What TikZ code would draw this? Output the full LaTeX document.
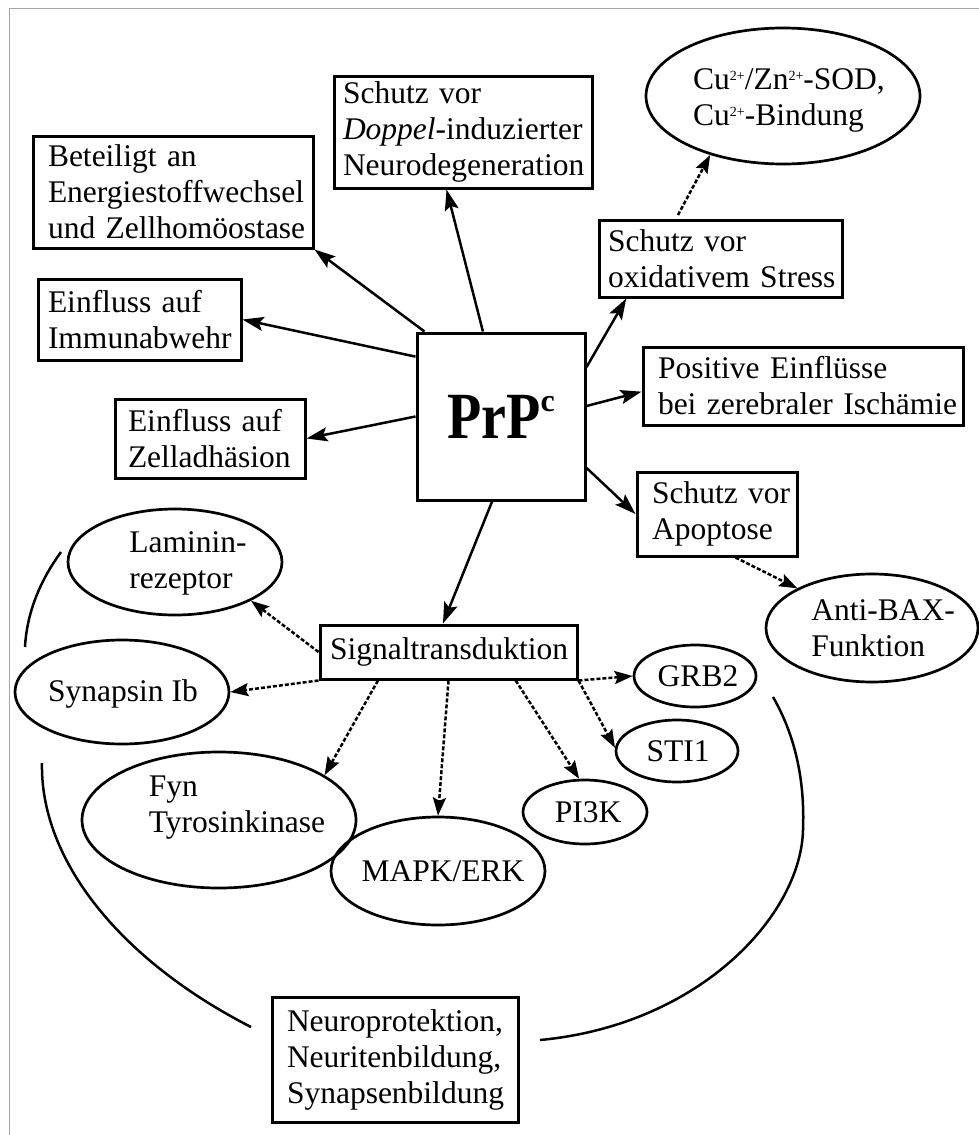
\documentclass[tikz,border=0pt]{standalone}
\usepackage{fontspec}
\setmainfont{Liberation Serif}
\usepackage{graphicx}
\usetikzlibrary{arrows.meta,shapes.geometric}
\newcommand{\cusup}[1]{\raisebox{9pt}{\fontsize{14}{14}\selectfont #1}}
\begin{document}
\begin{tikzpicture}[x=1pt,y=-1pt,
  every node/.style={font=\fontsize{31.5}{36}\selectfont,
    execute at begin node={\hyphenpenalty=10000\exhyphenpenalty=10000}},
  box/.style={draw, rectangle, line width=3pt, align=left, inner ysep=0pt},
  oval/.style={draw, ellipse, line width=2.7pt, inner sep=0pt, align=center},
  txt/.style={inner sep=0pt, align=left},
  arr/.style={line width=2.5pt, -{Stealth[length=21pt,width=14pt,inset=4pt]}},
  darr/.style={line width=2.5pt, dash pattern=on 4pt off 2pt, -{Stealth[length=18pt,width=13pt,inset=3pt]}},
  arcline/.style={line width=2.5pt}
]
\useasboundingbox (0,0) rectangle (979,1135);
\draw[gray!70, line width=1pt] (9,1135) -- (9,8) -- (979,8);

% boxes
\node[box, minimum width=280pt, minimum height=112pt, inner xsep=15pt, text width=250pt] (bet) at (173,192)
  {Beteiligt~an\\Energiestoffwechsel\\und~Zellhomöostase};
\node[box, minimum width=258pt, minimum height=112pt, inner xsep=9pt, text width=240pt] (dop) at (463,132)
  {Schutz~vor\\\textit{Doppel}-induzierter\\Neurodegeneration};
\node[box, minimum width=203pt, minimum height=81pt, inner xsep=10pt, text width=183pt] (imm) at (139.5,319.5)
  {Einfluss~auf\\Immunabwehr};
\node[box, minimum width=190pt, minimum height=79pt, inner xsep=13pt, text width=164pt] (zel) at (210,438.5)
  {Einfluss~auf\\Zelladhäsion};
\node[draw, rectangle, line width=3pt, minimum width=168pt, minimum height=167pt, inner sep=0pt] (prp) at (501,416.5)
  {\scalebox{0.85}[1]{\fontsize{66}{66}\selectfont\bfseries PrP}\raisebox{27pt}{\fontsize{32}{32}\selectfont\bfseries c}};
\node[box, minimum width=243pt, minimum height=77pt, inner xsep=9pt, text width=225pt] (oxi) at (720.5,258.5)
  {Schutz~vor\\oxidativem~Stress};
\node[box, minimum width=320pt, minimum height=78pt, inner xsep=15pt, text width=290pt] (pos) at (803,386)
  {Positive~Einflüsse\\bei~zerebraler~Ischämie};
\node[box, minimum width=160pt, minimum height=84pt, inner xsep=15pt, text width=130pt] (apo) at (717,514)
  {Schutz~vor\\Apoptose};
\node[box, minimum width=257pt, minimum height=54pt, inner xsep=10pt, text width=237pt] (sig) at (448.5,652)
  {Signaltransduktion};
\node[box, minimum width=246pt, minimum height=125pt, inner xsep=15pt, text width=216pt] (neu) at (395,1059.5)
  {Neuroprotektion,\\Neuritenbildung,\\Synapsenbildung};

% ellipses (text set in separate nodes so the ellipse keeps its size)
\node[oval, minimum width=274pt, minimum height=136pt] (cu) at (783,96) {};
\node[txt] (cutext) at (789,100) {Cu\cusup{2+}/Zn\cusup{2+}-SOD,\\Cu\cusup{2+}-Bindung};
\node[oval, minimum width=214pt, minimum height=106pt] (lam) at (175,562) {};
\node[txt] (lamtext) at (188,563) {Laminin-\\rezeptor};
\node[oval, minimum width=214pt, minimum height=104pt] (syn) at (122,692) {};
\node[txt] (syntext) at (123,694) {Synapsin~Ib};
\node[oval, minimum width=274pt, minimum height=136pt] (fyn) at (219,820) {};
\node[txt] (fyntext) at (237,808) {Fyn\\Tyrosinkinase};
\node[oval, minimum width=214pt, minimum height=108pt] (mapk) at (438,871) {};
\node[txt] (mapktext) at (443,871) {MAPK/ERK};
\node[oval, minimum width=124pt, minimum height=64pt] (pi3k) at (585,812) {};
\node[txt] (pi3ktext) at (588,812) {PI3K};
\node[oval, minimum width=122pt, minimum height=62pt] (sti) at (677,751) {};
\node[txt] (stitext) at (678,751) {STI1};
\node[oval, minimum width=122pt, minimum height=62pt] (grb) at (695,676) {};
\node[txt] (grbtext) at (698,676) {GRB2};
\node[oval, minimum width=212pt, minimum height=108pt] (bax) at (872,628) {};
\node[txt] (baxtext) at (883,628) {Anti-BAX-\\Funktion};

% solid arrows from PrPc
\draw[arr] (prp.132) -- (bet.south east);
\draw[arr] (prp.102) -- (dop.254);
\draw[arr] (prp.145.5) -- (imm.east);
\draw[arr] (prp.west) -- (zel.east);
\draw[arr] (prp.30.5) -- (oxi.203.5);
\draw[arr] (prp.7) -- (pos.182.5);
\draw[arr] (prp.329) -- (apo.west);
\draw[arr] (prp.264) -- (sig.101.5);

% dotted arrows
\draw[darr, shorten <=4pt] (oxi.138.5) -- (cu.219);
\draw[darr] (apo.293.2) -- (bax.152.6);
\draw[darr] (sig.west) -- (lam.333);
\draw[darr] (sig.south west) -- (syn.east);
\draw[darr] (sig.202.4) -- (fyn.23);
\draw[darr] (sig.south) -- (mapk.north);
\draw[darr] (sig.337.3) -- (pi3k.100);
\draw[darr] (sig.south east) -- (sti.177);
\draw[darr] (sig.south east) -- (grb.west);

% enclosing arcs
\draw[arcline] (61,552) .. controls (42,578) and (27,610) .. (25,647);
\draw[arcline] (42,763) .. controls (40,860) and (120,960) .. (251,1027);
\draw[arcline] (773,697) .. controls (795,735) and (805,780) .. (803,830)
  .. controls (801,915) and (700,1025) .. (540,1040);
\end{tikzpicture}
\end{document}
